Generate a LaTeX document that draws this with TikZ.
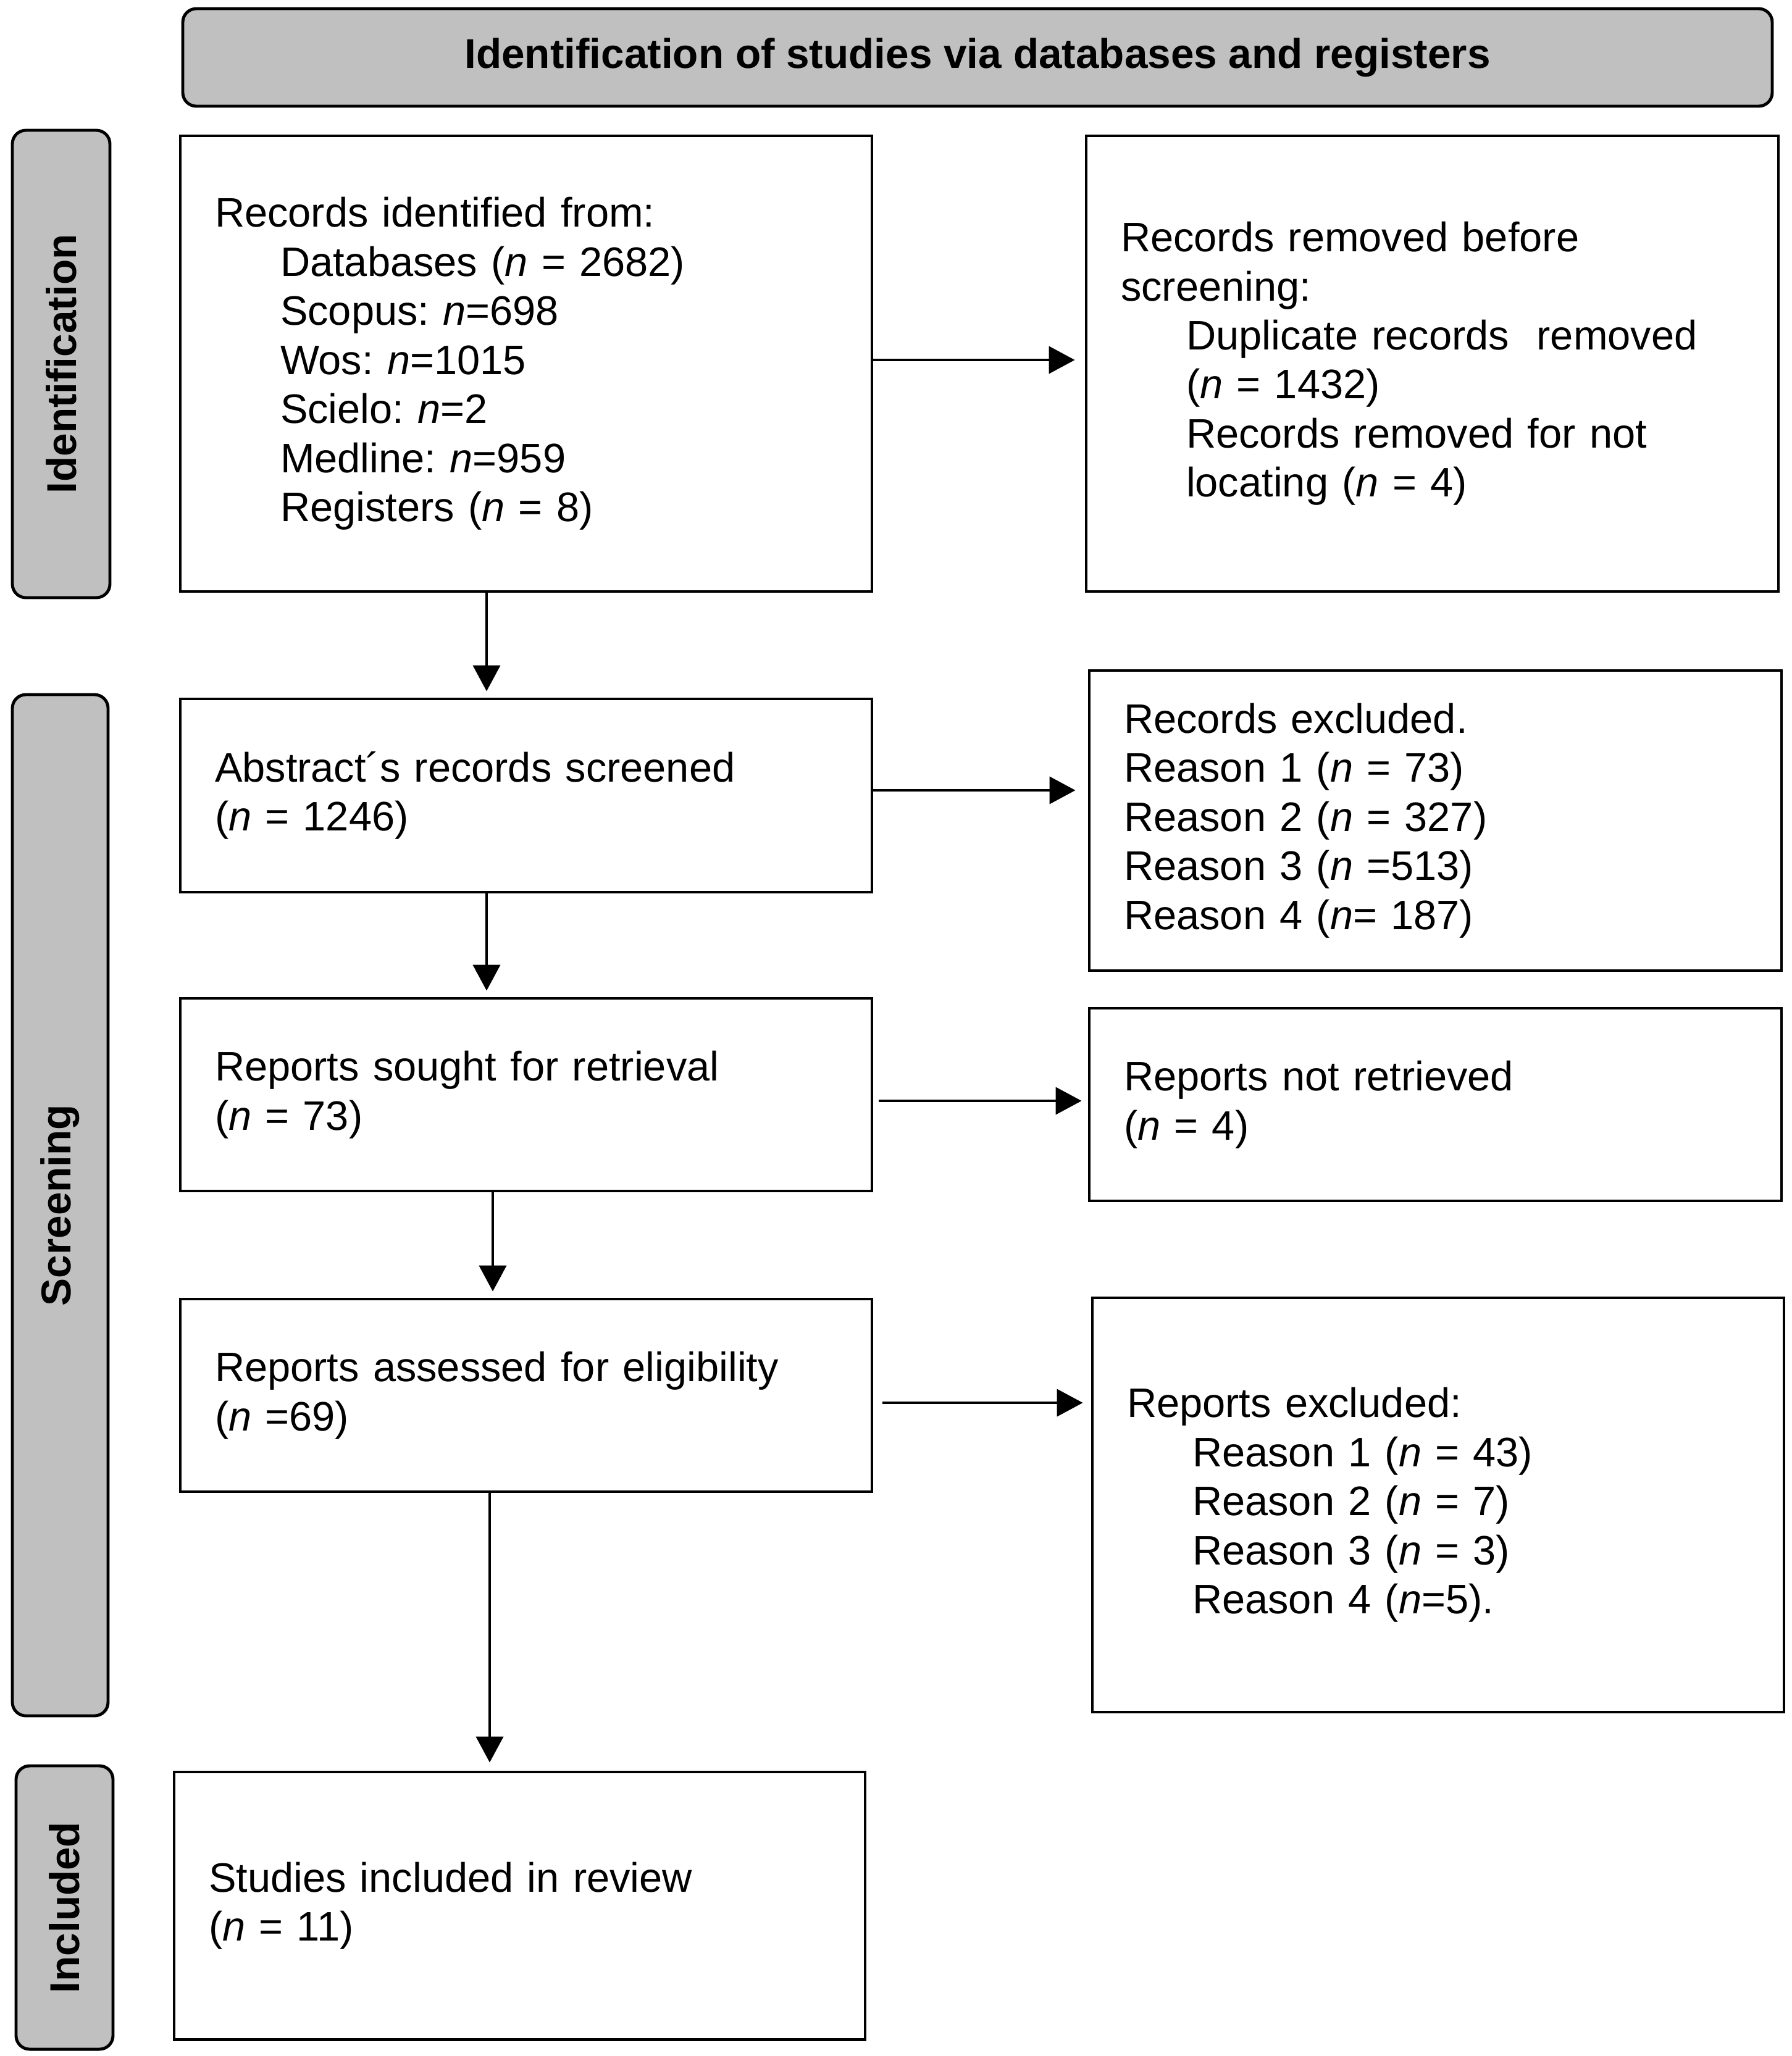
\documentclass[tikz,border=0pt]{standalone}
\usepackage{fontspec}
\setmainfont{Liberation Sans}
\usetikzlibrary{arrows.meta,calc}
\frenchspacing
\definecolor{hdrgray}{HTML}{C0C0C0}
\newcommand{\ind}{\hspace*{1.06cm}}
\newcommand{\nn}{\textit{n}}
\tikzset{
  txt/.style={font=\fontsize{19.0}{22.6}\selectfont},
  flowbox/.style={txt, draw=black, line width=1.4pt, fill=white, rectangle,
    align=left, inner xsep=0.56cm, inner ysep=0pt, anchor=center},
  hdrbox/.style={draw=black, line width=1.4pt, fill=hdrgray, rounded corners=0.22cm,
    font=\fontsize{19.2}{22.6}\selectfont\bfseries, inner sep=0pt, anchor=center},
  sidebox/.style={draw=black, line width=1.4pt, fill=hdrgray, rounded corners=0.22cm,
    inner sep=0pt, anchor=center},
  sidetxt/.style={font=\fontsize{19.2}{22.6}\selectfont\bfseries, rotate=90, inner sep=0pt},
  arr/.style={line width=1.2pt, -{Triangle[length=0.42cm,width=0.44cm]}}
}
\begin{document}
\begin{tikzpicture}
\useasboundingbox (0,0) rectangle (29.02,-33.30);

% header
\node[hdrbox, minimum width=25.74cm, minimum height=1.58cm] (hdr) at (15.83,-0.93)
  {Identification of studies via databases and registers};

% side labels
\node[sidebox, minimum width=1.58cm, minimum height=7.57cm] (sid) at (0.99,-5.895) {};
\node[sidetxt] (sidt) at (sid.center) {Identification};
\node[sidebox, minimum width=1.55cm, minimum height=16.54cm] (sscr) at (0.975,-19.52) {};
\node[sidetxt] (sscrt) at (sscr.center) {Screening};
\node[sidebox, minimum width=1.57cm, minimum height=4.59cm] (sinc) at (1.045,-30.895) {};
\node[sidetxt] (sinct) at (sinc.center) {Included};

% left column
\node[flowbox, text width=10.08cm, minimum height=7.38cm] (B1) at (8.52,-5.89)
  {Records identified from:\\
   \ind Databases (\nn{} = 2682)\\
   \ind Scopus: \nn=698\\
   \ind Wos: \nn=1015\\
   \ind Scielo: \nn=2\\
   \ind Medline: \nn=959\\
   \ind Registers (\nn{} = 8)};
\node[flowbox, text width=10.08cm, minimum height=3.13cm] (B2) at (8.52,-12.885)
  {Abstract\char"00B4 s records screened\\(\nn{} = 1246)};
\node[flowbox, text width=10.08cm, minimum height=3.12cm] (B3) at (8.52,-17.73)
  {Reports sought for retrieval\\(\nn{} = 73)};
\node[flowbox, text width=10.08cm, minimum height=3.12cm] (B4) at (8.52,-22.60)
  {Reports assessed for eligibility\\(\nn{} =69)};
\node[flowbox, text width=10.07cm, minimum height=4.33cm] (B5) at (8.415,-30.865)
  {Studies included in review\\(\nn{} = 11)};

% right column
\node[flowbox, text width=10.09cm, minimum height=7.38cm] (R1) at (23.195,-5.89)
  {Records removed before\\
   screening:\\
   \ind Duplicate records\ \ removed\\
   \ind (\nn{} = 1432)\\
   \ind Records removed for not\\
   \ind locating (\nn{} = 4)};
\node[flowbox, text width=10.09cm, minimum height=4.86cm] (R2) at (23.245,-13.29)
  {Records excluded.\\
   Reason 1 (\nn{} = 73)\\
   Reason 2 (\nn{} = 327)\\
   Reason 3 (\nn{} =513)\\
   Reason 4 (\nn= 187)};
\node[flowbox, text width=10.09cm, minimum height=3.12cm] (R3) at (23.245,-17.89)
  {Reports not retrieved\\(\nn{} = 4)};
\node[flowbox, text width=10.08cm, minimum height=6.71cm] (R4) at (23.29,-24.375)
  {Reports excluded:\\
   \ind Reason 1 (\nn{} = 43)\\
   \ind Reason 2 (\nn{} = 7)\\
   \ind Reason 3 (\nn{} = 3)\\
   \ind Reason 4 (\nn=5).};

% horizontal arrows
\draw[arr, shorten >=0.16cm] ([yshift=0.06cm]B1.east) -- ([yshift=0.06cm]B1.east -| R1.west);
\draw[arr, shorten >=0.2cm] ([yshift=0.085cm]B2.east) -- ([yshift=0.085cm]B2.east -| R2.west);
\draw[arr, shorten <=0.09cm, shorten >=0.1cm] ([yshift=-0.1cm]B3.east) -- ([yshift=-0.1cm]B3.east -| R3.west);
\draw[arr, shorten <=0.15cm, shorten >=0.13cm] ([yshift=-0.12cm]B4.east) -- ([yshift=-0.12cm]B4.east -| R4.west);

% vertical arrows
\draw[arr, shorten >=0.1cm] ([xshift=-0.64cm]B1.south) -- ([xshift=-0.64cm]B2.north);
\draw[arr, shorten >=0.1cm] ([xshift=-0.64cm]B2.south) -- ([xshift=-0.64cm]B3.north);
\draw[arr, shorten >=0.1cm] ([xshift=-0.54cm]B3.south) -- ([xshift=-0.54cm]B4.north);
\draw[arr, shorten >=0.13cm] ([xshift=-0.59cm]B4.south) -- ([xshift=-0.59cm]B4.south |- B5.north);
\end{tikzpicture}
\end{document}
